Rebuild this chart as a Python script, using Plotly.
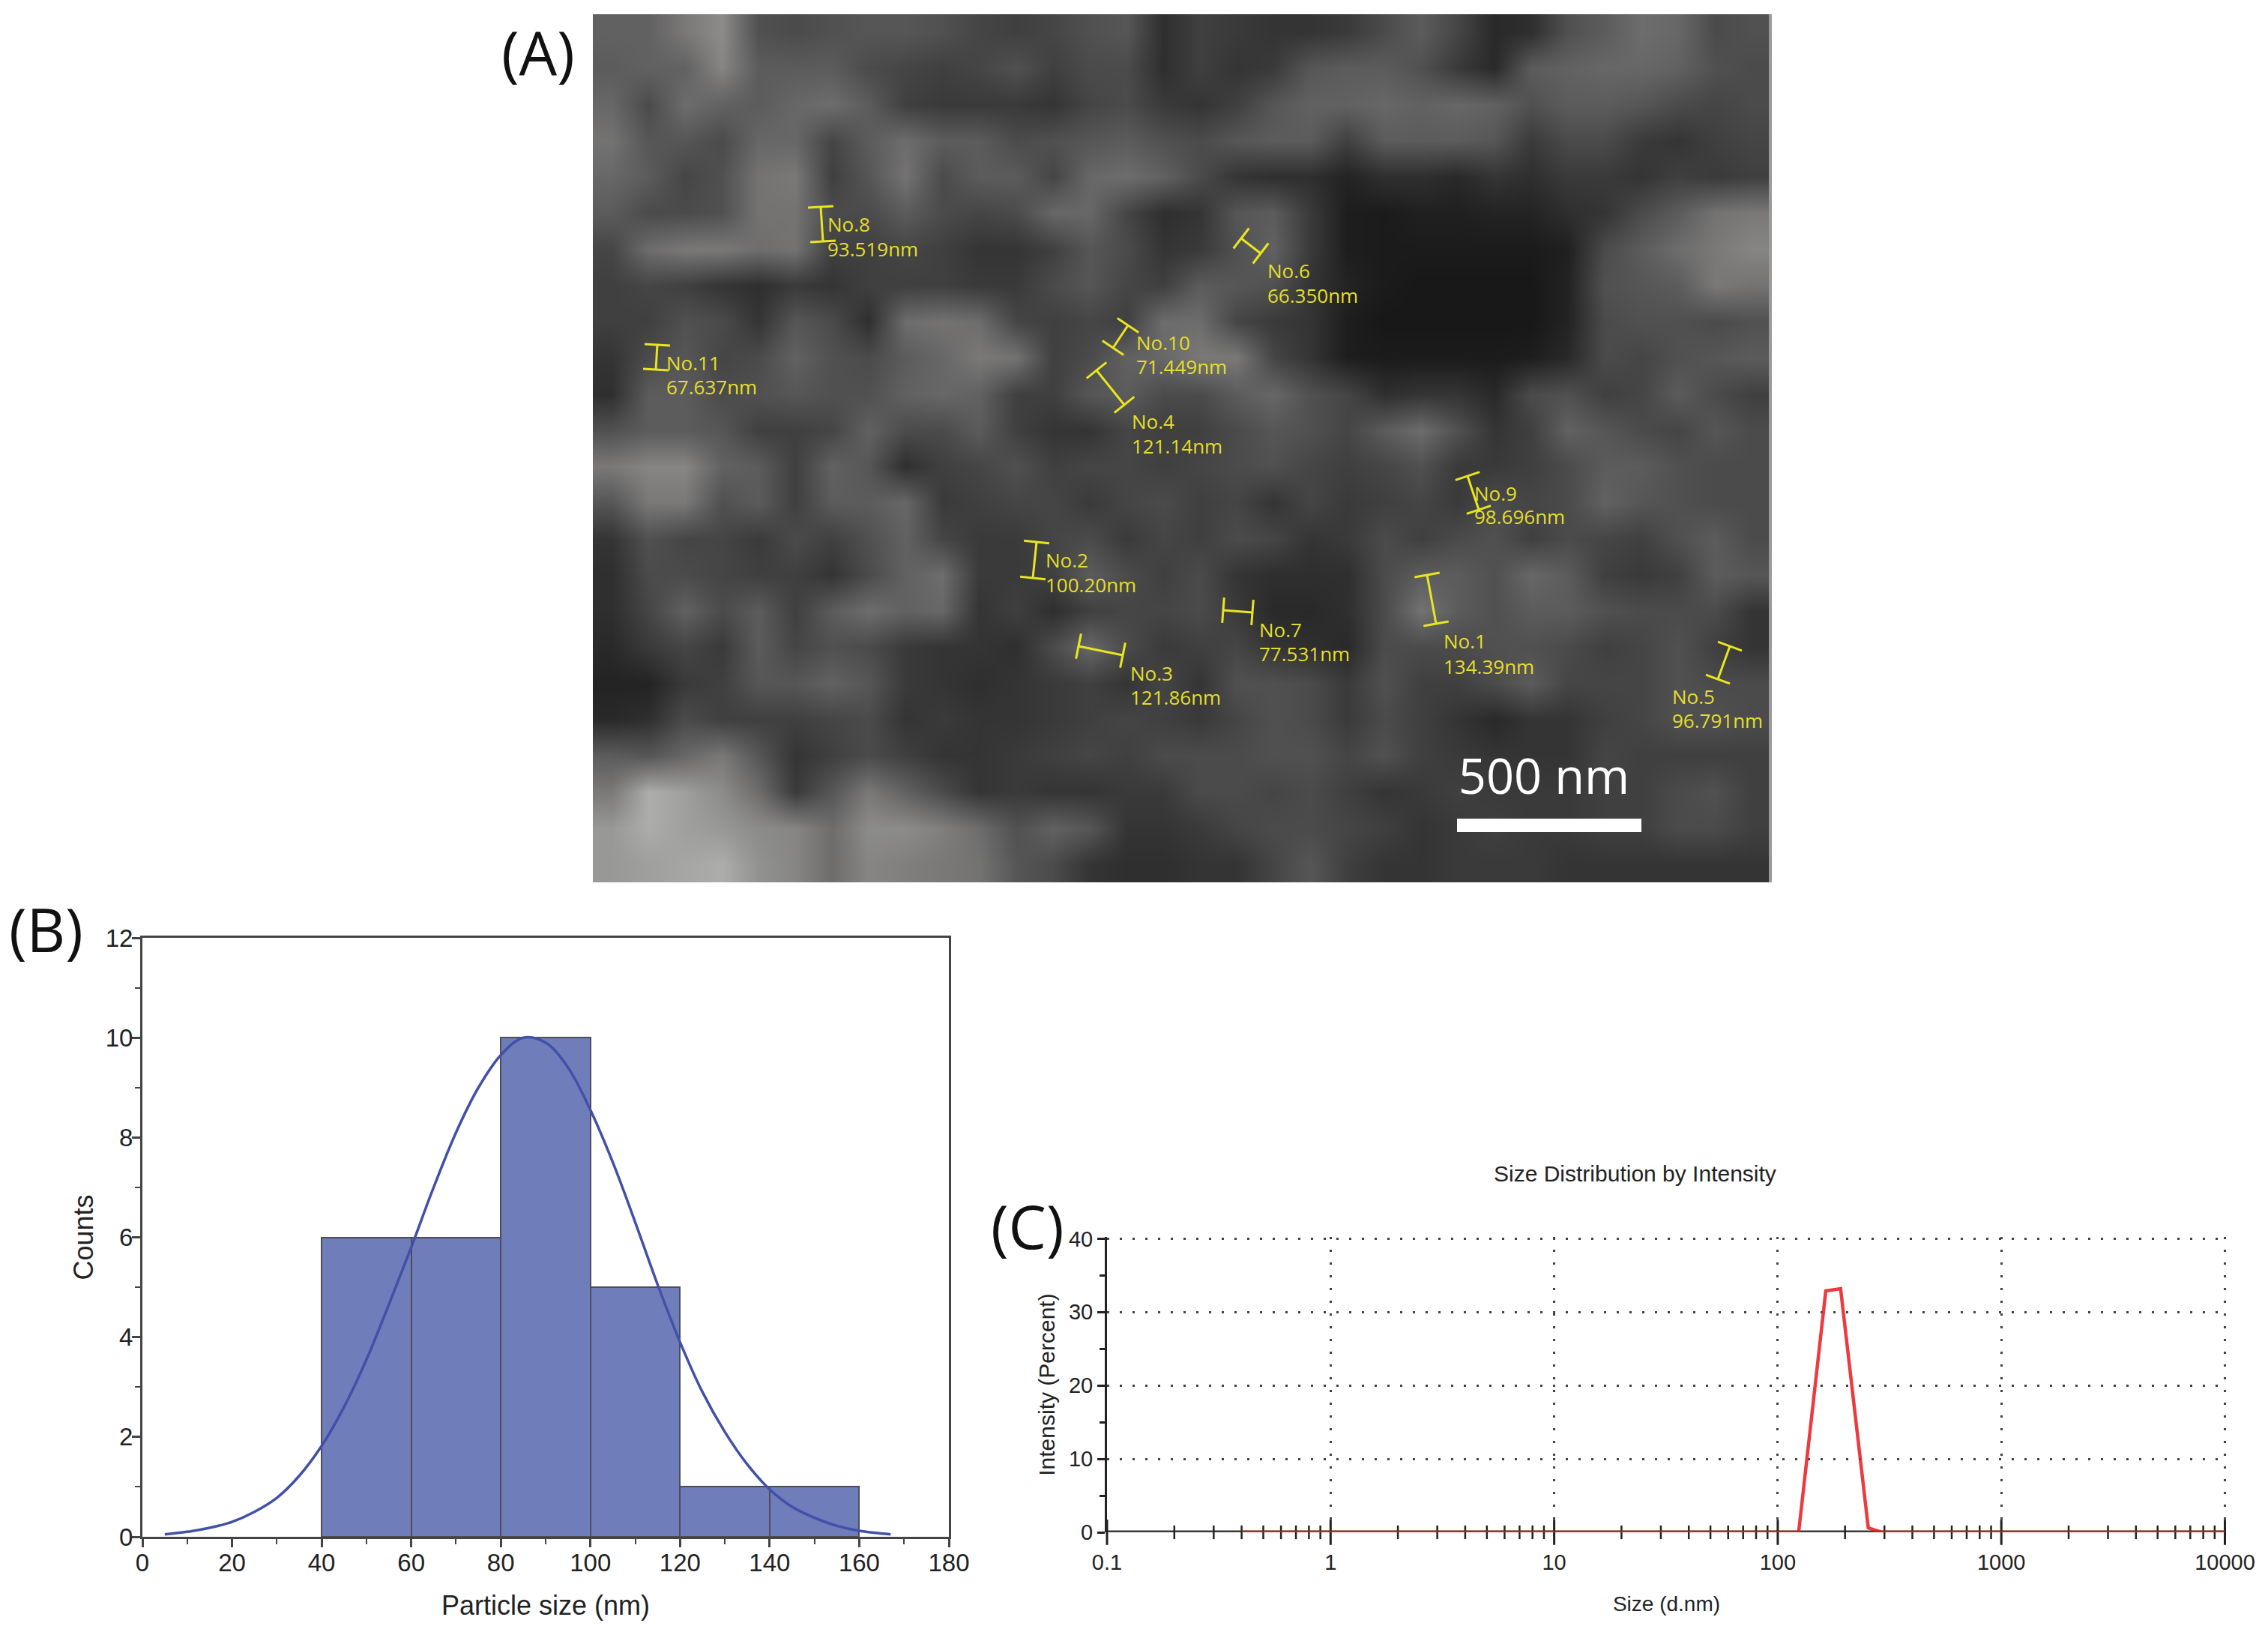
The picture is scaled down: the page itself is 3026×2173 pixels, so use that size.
import numpy as np
import plotly.graph_objects as go

W, H = 3026, 2173

sem_gray = [
    [90, 90, 110, 125, 75, 70, 75, 80, 80, 75, 65, 60, 65, 75, 80, 45, 60, 55, 50, 50, 55, 70, 85, 65, 40, 45, 75, 85, 100, 95, 70, 75],
    [85, 90, 90, 120, 85, 85, 85, 70, 65, 60, 65, 75, 60, 70, 70, 45, 60, 50, 55, 80, 85, 85, 75, 55, 40, 85, 90, 95, 95, 90, 75, 70],
    [95, 70, 100, 90, 85, 95, 100, 85, 60, 55, 55, 55, 50, 65, 70, 55, 50, 60, 80, 90, 90, 95, 90, 95, 90, 75, 85, 85, 80, 70, 65, 70],
    [105, 80, 80, 70, 95, 95, 65, 85, 100, 85, 85, 70, 75, 80, 85, 75, 70, 80, 85, 85, 60, 85, 85, 85, 80, 55, 70, 70, 55, 50, 60, 65],
    [95, 85, 65, 75, 105, 110, 60, 80, 105, 70, 85, 85, 65, 95, 100, 90, 70, 50, 45, 45, 35, 45, 45, 40, 50, 45, 55, 55, 50, 60, 55, 60],
    [85, 70, 70, 75, 105, 105, 70, 70, 85, 70, 65, 70, 95, 95, 65, 45, 50, 80, 85, 55, 30, 28, 32, 32, 35, 35, 45, 50, 70, 85, 105, 110],
    [65, 100, 110, 110, 100, 105, 60, 60, 65, 60, 50, 50, 60, 80, 70, 50, 55, 75, 90, 55, 30, 28, 28, 28, 28, 28, 32, 70, 85, 100, 110, 120],
    [60, 65, 60, 50, 45, 55, 50, 60, 60, 60, 55, 55, 70, 80, 65, 60, 85, 80, 75, 50, 35, 28, 25, 25, 25, 25, 35, 75, 80, 85, 110, 105],
    [60, 60, 75, 70, 50, 80, 70, 45, 100, 105, 100, 65, 60, 65, 60, 100, 100, 65, 55, 50, 30, 25, 25, 25, 25, 25, 35, 70, 75, 75, 70, 75],
    [50, 70, 80, 65, 70, 90, 75, 70, 85, 95, 110, 105, 60, 70, 90, 95, 110, 110, 65, 50, 30, 28, 28, 28, 28, 30, 40, 70, 65, 75, 80, 85],
    [45, 85, 85, 70, 75, 80, 75, 75, 90, 95, 90, 60, 60, 80, 85, 70, 70, 85, 95, 75, 65, 45, 50, 50, 40, 70, 75, 60, 65, 85, 70, 60],
    [75, 85, 85, 80, 60, 60, 65, 90, 70, 70, 85, 60, 50, 50, 65, 60, 60, 70, 80, 75, 65, 85, 100, 75, 50, 60, 90, 80, 70, 65, 80, 70],
    [110, 120, 120, 90, 85, 60, 90, 80, 45, 60, 65, 75, 60, 65, 65, 60, 65, 70, 75, 65, 60, 65, 75, 55, 55, 60, 70, 85, 85, 75, 70, 70],
    [80, 110, 110, 75, 85, 60, 85, 85, 95, 55, 60, 65, 65, 55, 65, 70, 60, 65, 50, 65, 55, 60, 65, 55, 70, 65, 70, 90, 80, 75, 70, 70],
    [50, 75, 65, 65, 55, 70, 60, 75, 90, 65, 55, 55, 65, 70, 55, 65, 60, 70, 65, 50, 55, 70, 60, 70, 75, 60, 70, 65, 60, 75, 85, 70],
    [45, 70, 70, 65, 60, 60, 50, 70, 90, 100, 55, 55, 60, 85, 70, 60, 70, 50, 45, 45, 45, 70, 85, 85, 75, 95, 85, 60, 55, 60, 85, 80],
    [45, 65, 90, 70, 85, 60, 85, 100, 90, 95, 50, 60, 45, 60, 65, 65, 70, 55, 40, 40, 45, 70, 105, 85, 75, 85, 85, 75, 70, 70, 70, 50],
    [40, 55, 65, 55, 85, 65, 75, 70, 55, 50, 50, 45, 70, 95, 70, 55, 60, 65, 50, 45, 40, 70, 70, 70, 75, 75, 70, 60, 65, 75, 60, 50],
    [35, 35, 55, 60, 80, 80, 90, 80, 55, 50, 45, 50, 55, 60, 50, 65, 50, 75, 75, 70, 55, 75, 60, 60, 70, 85, 65, 65, 65, 75, 70, 70],
    [40, 45, 70, 60, 60, 60, 65, 70, 50, 55, 50, 50, 55, 60, 65, 60, 55, 65, 75, 70, 55, 70, 60, 50, 40, 50, 50, 60, 65, 75, 75, 70],
    [85, 80, 95, 110, 80, 50, 60, 70, 60, 50, 50, 55, 60, 65, 60, 70, 70, 70, 75, 75, 65, 75, 60, 55, 50, 50, 50, 65, 60, 60, 60, 60],
    [110, 150, 140, 125, 100, 55, 80, 110, 90, 70, 50, 55, 50, 50, 55, 55, 70, 70, 65, 70, 60, 50, 55, 60, 55, 55, 55, 60, 60, 70, 75, 60],
    [135, 150, 140, 135, 125, 120, 100, 125, 125, 115, 100, 75, 90, 80, 50, 50, 55, 65, 70, 70, 65, 60, 50, 55, 60, 55, 55, 60, 60, 70, 70, 60],
    [135, 140, 145, 150, 130, 120, 100, 120, 115, 110, 105, 80, 70, 50, 45, 45, 50, 50, 65, 80, 60, 50, 50, 55, 55, 55, 50, 50, 50, 50, 50, 50],
]

# measurement markers on the SEM picture, in picture pixels
meas_names = ["No.1", "No.2", "No.3", "No.4", "No.5", "No.6", "No.7", "No.8", "No.9", "No.10", "No.11"]
meas_sizes = ["134.39nm", "100.20nm", "121.86nm", "121.14nm", "96.791nm", "66.350nm",
              "77.531nm", "93.519nm", "98.696nm", "71.449nm", "67.637nm"]
meas_x0 = [1904, 1383, 1439, 1463, 2308, 1656, 1632, 1095, 1958, 1505, 877]
meas_y0 = [767, 723, 862, 494, 862, 318, 814, 276, 635, 434, 460]
meas_x1 = [1916, 1378, 1498, 1500, 2292, 1682, 1671, 1098, 1973, 1485, 875]
meas_y1 = [832, 771, 874, 540, 906, 338, 817, 322, 680, 464, 493]
label_x = [1926, 1395, 1508, 1510, 2231, 1691, 1680, 1104, 1967, 1516, 889]
label_y = [858, 750, 901, 565, 932, 364, 843, 302, 661, 460, 487]
value_y = [892, 783, 933, 598, 964, 397, 875, 335, 692, 492, 519]

# panel B: histogram and fitted curve
bin_centers = [50, 70, 90, 110, 130, 150]
bin_counts = [6, 6, 10, 5, 1, 1]
fit_x = [5, 10, 15, 20, 25, 30, 35, 40, 45, 50, 55, 60, 65, 70, 75, 80, 85, 90, 95, 100,
         105, 110, 115, 120, 125, 130, 135, 140, 145, 150, 155, 160, 167]
fit_y = [0.05, 0.1, 0.18, 0.3, 0.5, 0.78, 1.22, 1.82, 2.6, 3.55, 4.65, 5.8, 7.0, 8.1, 9.0, 9.65, 10.0, 9.9, 9.4, 8.55,
         7.5, 6.3, 5.05, 3.9, 2.9, 2.1, 1.45, 0.95, 0.6, 0.38, 0.22, 0.12, 0.05]

# panel C: size distribution
size_nm = [0.4, 1, 10, 100, 124, 164, 191, 254, 292, 1000, 10000]
intensity = [0, 0, 0, 0, 0, 32.9, 33.2, 0.6, 0, 0, 0]
size_ticks = [0.1, 1, 10, 100, 1000, 10000]
size_tick_text = ["0.1", "1", "10", "100", "1000", "10000"]


def dom_x(a, b):
    return [a / W, b / W]


def dom_y(top, bottom):
    return [1 - bottom / H, 1 - top / H]


fig = go.Figure()

# --- panel A
cols = len(sem_gray[0])
rows = len(sem_gray)
img_left, img_right, img_top, img_bottom = 791, 2362, 19, 1177
sem_x = img_left + (np.arange(cols) + 0.5) * (img_right - img_left) / cols
sem_y = img_top + (np.arange(rows) + 0.5) * (img_bottom - img_top) / rows
fig.add_trace(go.Heatmap(z=sem_gray, x=sem_x, y=sem_y, colorscale="gray", zmin=0, zmax=205,
                         zsmooth="best", showscale=False, hoverinfo="skip", xaxis="x", yaxis="y"))

bx, by = [], []
for x0, y0, x1, y1 in zip(meas_x0, meas_y0, meas_x1, meas_y1):
    length = np.hypot(x1 - x0, y1 - y0)
    nx, ny = -(y1 - y0) / length * 17, (x1 - x0) / length * 17
    bx += [x0, x1, None, x0 - nx, x0 + nx, None, x1 - nx, x1 + nx, None]
    by += [y0, y1, None, y0 - ny, y0 + ny, None, y1 - ny, y1 + ny, None]
fig.add_trace(go.Scatter(x=bx, y=by, mode="lines", line=dict(color="#e9e620", width=3),
                         hoverinfo="skip", showlegend=False, xaxis="x", yaxis="y"))
yellow_font = dict(family="Open Sans", size=26, color="#e3df2a")
fig.add_trace(go.Scatter(x=label_x, y=label_y, mode="text", text=meas_names, textposition="middle right",
                         textfont=yellow_font, hoverinfo="skip", showlegend=False, xaxis="x", yaxis="y"))
fig.add_trace(go.Scatter(x=label_x, y=value_y, mode="text", text=meas_sizes, textposition="middle right",
                         textfont=yellow_font, hoverinfo="skip", showlegend=False, xaxis="x", yaxis="y"))
# scale bar
fig.add_trace(go.Scatter(x=[1944, 2190], y=[1101, 1101], mode="lines", line=dict(color="white", width=18),
                         hoverinfo="skip", showlegend=False, xaxis="x", yaxis="y"))
fig.add_trace(go.Scatter(x=[2060], y=[1043], mode="text", text=["500 nm"],
                         textfont=dict(family="Open Sans", size=65, color="white"),
                         hoverinfo="skip", showlegend=False, xaxis="x", yaxis="y"))

# --- panel B
fig.add_trace(go.Bar(x=bin_centers, y=bin_counts, width=20, marker=dict(color="#707dbb", line=dict(color="#4d4d55", width=2)),
                     showlegend=False, xaxis="x2", yaxis="y2"))
fig.add_trace(go.Scatter(x=fit_x, y=fit_y, mode="lines", line=dict(color="#4150a8", width=3.5, shape="spline"),
                         showlegend=False, xaxis="x2", yaxis="y2"))

# --- panel C
fig.add_trace(go.Scatter(x=[0.1, 10000], y=[0, 0], mode="lines", line=dict(color="#3a3a3a", width=5),
                         showlegend=False, xaxis="x3", yaxis="y3"))
minor_pos = [m * d for d in [0.1, 1, 10, 100, 1000] for m in range(2, 10)]
fig.add_trace(go.Scatter(x=minor_pos, y=[0] * len(minor_pos), mode="markers", cliponaxis=False,
                         marker=dict(symbol="line-ns", size=13, line=dict(color="#222", width=2.5)),
                         hoverinfo="skip", showlegend=False, xaxis="x3", yaxis="y3"))
fig.add_trace(go.Scatter(x=size_ticks, y=[0] * len(size_ticks), mode="markers", cliponaxis=False,
                         marker=dict(symbol="line-ns", size=24, line=dict(color="#222", width=3)),
                         hoverinfo="skip", showlegend=False, xaxis="x3", yaxis="y3"))
fig.add_trace(go.Scatter(x=size_nm, y=intensity, mode="lines", cliponaxis=False,
                         line=dict(color="rgba(232,25,30,0.85)", width=4.5),
                         showlegend=False, xaxis="x3", yaxis="y3"))

tick_b = dict(family="Liberation Sans", size=33, color="#222")
tick_c = dict(family="Liberation Sans", size=29, color="#222")
dots = "3px,14px"

fig.update_layout(
    width=W, height=H, margin=dict(l=0, r=0, t=0, b=0, autoexpand=False),
    paper_bgcolor="white", plot_bgcolor="white", showlegend=False, bargap=0,
    font=dict(family="Liberation Sans", color="#222"),
    xaxis=dict(domain=dom_x(img_left, img_right), range=[img_left, img_right], visible=False),
    yaxis=dict(domain=dom_y(img_top, img_bottom), range=[img_bottom, img_top], visible=False),
    xaxis2=dict(domain=dom_x(190, 1266), range=[0, 180], dtick=20, ticks="outside", ticklen=11, tickwidth=3,
                tickcolor="#444", showgrid=False, zeroline=False, showline=True, mirror=True,
                linecolor="#444", linewidth=3, tickfont=tick_b, automargin=False, ticklabelstandoff=-8,
                minor=dict(dtick=10, ticks="outside", ticklen=7, tickwidth=2, tickcolor="#444", showgrid=False),
                title=dict(text="Particle size (nm)", font=dict(size=36, family="Liberation Sans", color="#222"), standoff=28),
                anchor="y2"),
    yaxis2=dict(domain=dom_y(1251, 2050), range=[0, 12], dtick=2, ticks="outside", ticklen=11, tickwidth=3,
                tickcolor="#444", showgrid=False, zeroline=False, showline=True, mirror=True,
                linecolor="#444", linewidth=3, tickfont=tick_b, automargin=False, ticklabelstandoff=-8,
                minor=dict(dtick=1, ticks="outside", ticklen=7, tickwidth=2, tickcolor="#444", showgrid=False),
                title=dict(text="Counts", font=dict(size=36, family="Liberation Sans", color="#222"), standoff=6),
                anchor="x2"),
    xaxis3=dict(domain=dom_x(1477, 2970), type="log", range=[-1, 4.005], tickvals=size_ticks, ticktext=size_tick_text,
                ticks="", showgrid=True, gridcolor="#444", gridwidth=3, griddash=dots, zeroline=False,
                showline=False, tickfont=tick_c, automargin=False, ticklabelstandoff=20,
                title=dict(text="Size (d.nm)", font=dict(size=28, family="Liberation Sans", color="#222"), standoff=30),
                anchor="y3"),
    yaxis3=dict(domain=dom_y(1650, 2044), range=[0, 40.25], dtick=10, ticks="outside", ticklen=10, tickwidth=3,
                tickcolor="#222", showgrid=True, gridcolor="#444", gridwidth=3, griddash=dots, zeroline=False,
                showline=True, linecolor="#222", linewidth=3, tickfont=tick_c, automargin=False,
                minor=dict(dtick=5, ticks="outside", ticklen=7, tickwidth=3, tickcolor="#222", showgrid=False),
                title=dict(text="Intensity (Percent)", font=dict(size=30, family="Liberation Sans", color="#222"), standoff=10),
                anchor="x3"),
    shapes=[dict(type="line", xref="paper", yref="paper", x0=2362 / W, x1=2362 / W,
                 y0=1 - 1177 / H, y1=1 - 19 / H, line=dict(color="#9a9a9a", width=4))],
    annotations=[
        dict(text="(A)", x=718 / W, y=1 - 68 / H, xref="paper", yref="paper", showarrow=False,
             xanchor="center", yanchor="middle", font=dict(family="Open Sans", size=80, color="#111")),
        dict(text="(B)", x=62 / W, y=1 - 1238 / H, xref="paper", yref="paper", showarrow=False,
             xanchor="center", yanchor="middle", font=dict(family="Open Sans", size=80, color="#111")),
        dict(text="(C)", x=1371 / W, y=1 - 1634 / H, xref="paper", yref="paper", showarrow=False,
             xanchor="center", yanchor="middle", font=dict(family="Open Sans", size=80, color="#111")),
        dict(text="Size Distribution by Intensity", x=2181 / W, y=1 - 1565 / H, xref="paper", yref="paper",
             showarrow=False, xanchor="center", yanchor="middle",
             font=dict(family="Liberation Sans", size=30, color="#222")),
    ],
)

# the page's default body margin would shift the whole figure
fig.write_html("out.html", config={"displayModeBar": False}, post_script="document.body.style.margin='0';")
